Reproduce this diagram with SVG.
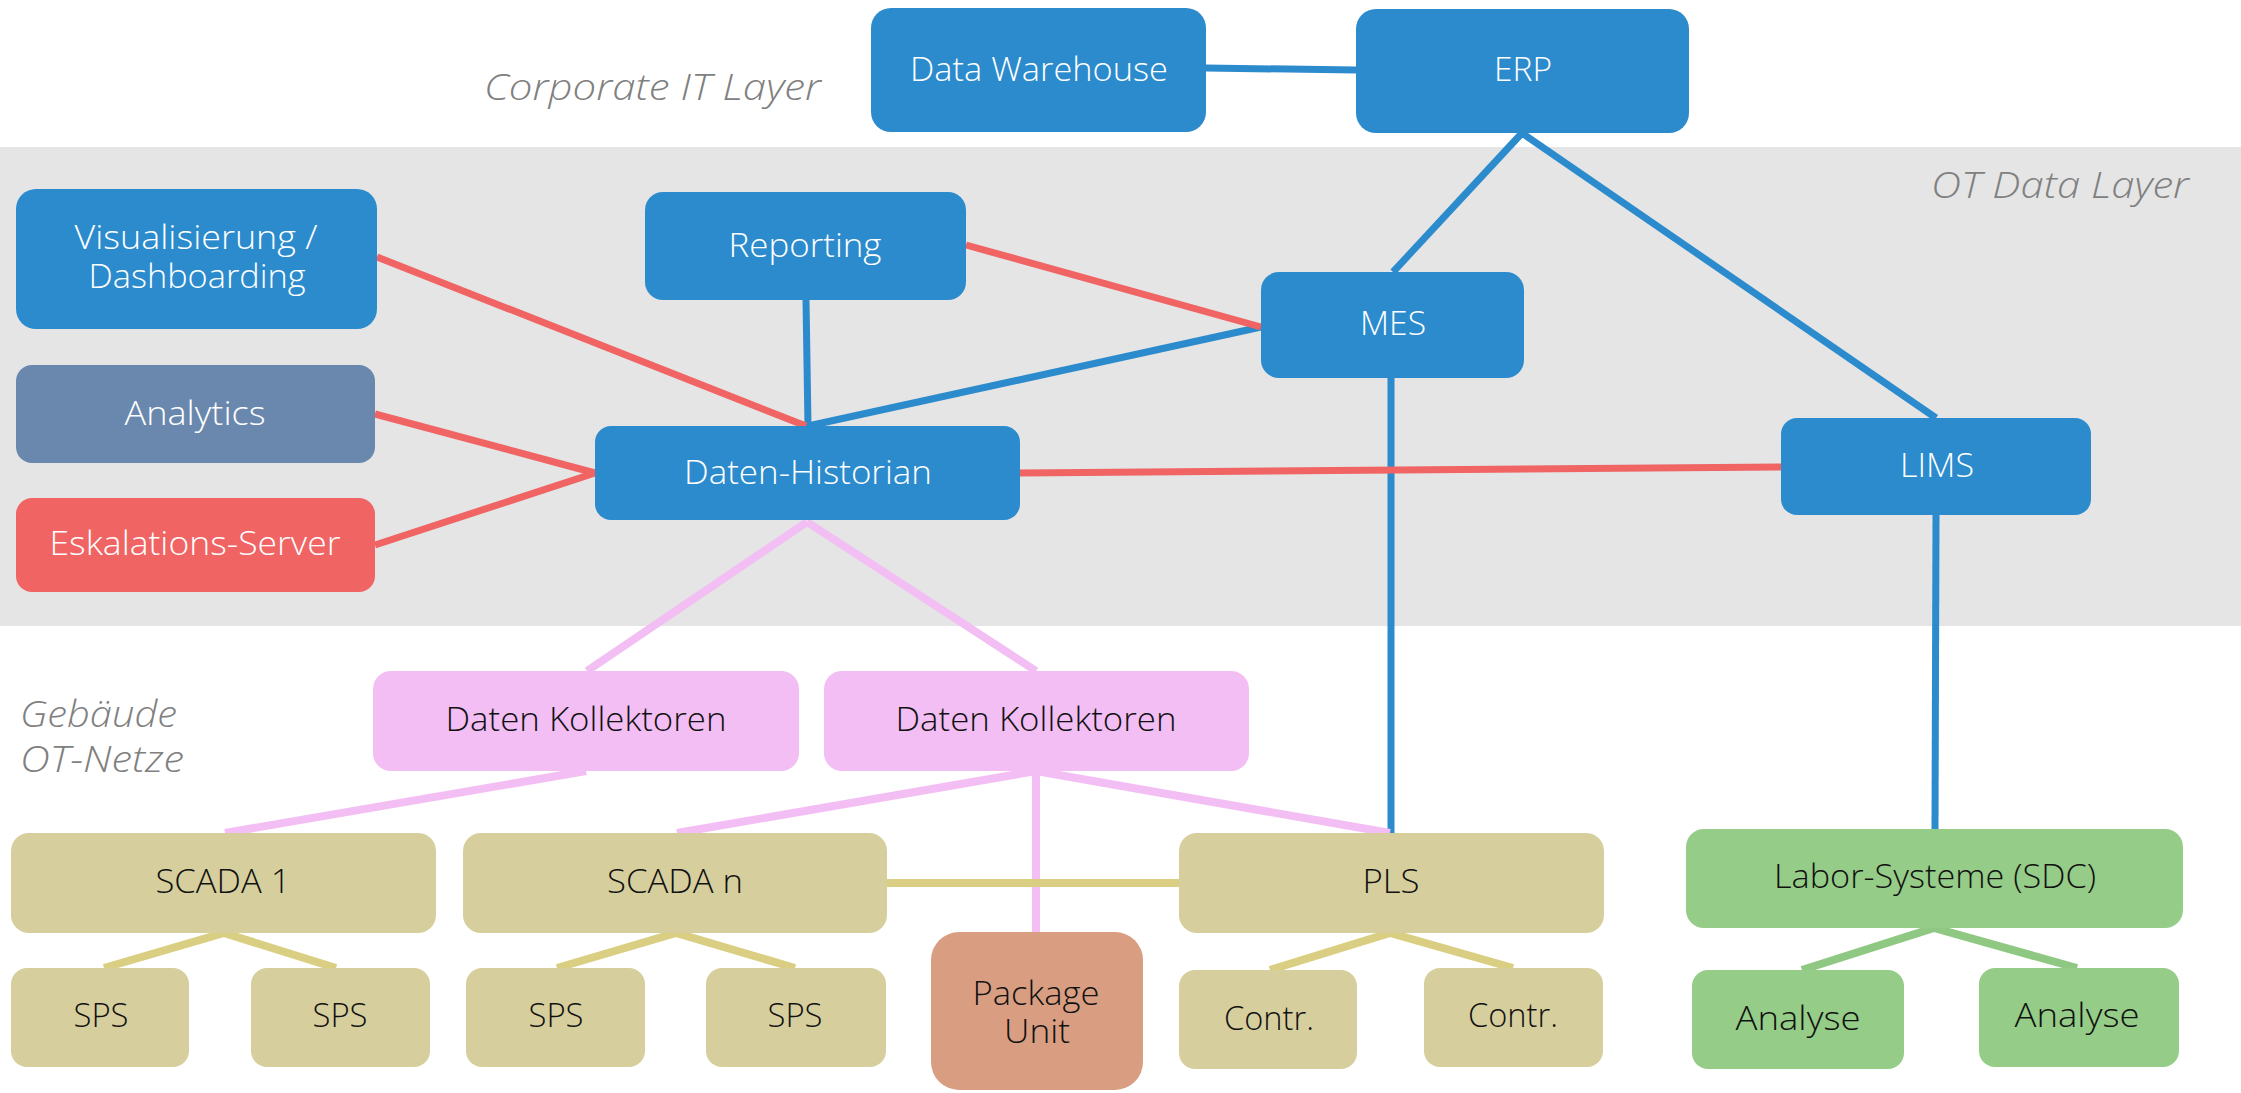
<svg xmlns="http://www.w3.org/2000/svg" width="2241" height="1093" viewBox="0 0 2241 1093">
  <style>
    .lbl { font-family: "Open Sans", "Liberation Sans", sans-serif; font-size: 33px; font-weight: 300; text-anchor: middle; }
    .w { fill: #ffffff; }
    .k { fill: #111111; }
    .layer { font-family: "Open Sans", "Liberation Sans", sans-serif; font-size: 37px; font-weight: 300; font-style: italic; fill: #808080; }
    .blue { fill: #2B8BCD; }
    .slate { fill: #6A88AE; }
    .alert { fill: #F06464; }
    .pink { fill: #F2BEF4; }
    .olive { fill: #D6CF9D; }
    .pkg { fill: #D99E81; }
    .green { fill: #95CC87; }
    .c-blue { stroke: #2B8BCD; stroke-width: 7; fill: none; }
    .c-red { stroke: #F06464; stroke-width: 7; fill: none; }
    .c-pink { stroke: #F2BEF4; stroke-width: 8; fill: none; }
    .c-olive { stroke: #D9CE82; stroke-width: 8; fill: none; }
    .c-green { stroke: #8FC882; stroke-width: 8; fill: none; }
  </style>

  <!-- background and layer bands -->
  <rect x="0" y="0" width="2241" height="1093" fill="#ffffff"/>
  <rect id="ot-data-band" x="0" y="147" width="2241" height="479" fill="#E5E5E5"/>

  <g id="layer-labels">
    <text class="layer" x="484" y="100" textLength="337" lengthAdjust="spacingAndGlyphs">Corporate IT Layer</text>
    <text class="layer" x="1931" y="198" textLength="258" lengthAdjust="spacingAndGlyphs">OT Data Layer</text>
    <text class="layer" x="20" y="727" textLength="157" lengthAdjust="spacingAndGlyphs">Gebäude</text>
    <text class="layer" x="20" y="772" textLength="164" lengthAdjust="spacingAndGlyphs">OT-Netze</text>
  </g>

  <g id="connectors">
    <!-- IT / MES / LIMS links -->
    <line class="c-blue" x1="1206" y1="68" x2="1356" y2="70"/>
    <line class="c-blue" x1="1522" y1="133" x2="1393" y2="272"/>
    <line class="c-blue" x1="1522" y1="133" x2="1936" y2="418"/>
    <line class="c-blue" x1="806" y1="300" x2="808" y2="426"/>
    <line class="c-blue" x1="808" y1="426" x2="1261" y2="327"/>
    <line class="c-blue" x1="1391" y1="378" x2="1391" y2="833"/>
    <line class="c-blue" x1="1936" y1="515" x2="1935" y2="829"/>
    <!-- historian data feeds -->
    <line class="c-red" x1="377" y1="257" x2="806" y2="426"/>
    <line class="c-red" x1="966" y1="245" x2="1261" y2="327"/>
    <line class="c-red" x1="375" y1="414" x2="595" y2="473"/>
    <line class="c-red" x1="375" y1="545" x2="595" y2="473"/>
    <line class="c-red" x1="1020" y1="473" x2="1781" y2="467"/>
    <!-- collectors -->
    <line class="c-pink" x1="807" y1="522" x2="587" y2="671"/>
    <line class="c-pink" x1="807" y1="522" x2="1036" y2="671"/>
    <line class="c-pink" x1="586" y1="771" x2="225" y2="833"/>
    <line class="c-pink" x1="1036" y1="771" x2="677" y2="833"/>
    <line class="c-pink" x1="1036" y1="771" x2="1036" y2="932"/>
    <line class="c-pink" x1="1036" y1="771" x2="1390" y2="833"/>
    <!-- field level -->
    <line class="c-olive" x1="887" y1="883" x2="1179" y2="883"/>
    <polyline class="c-olive" points="104,968 224,933 336,968"/>
    <polyline class="c-olive" points="557,968 676,933 795,968"/>
    <polyline class="c-olive" points="1270,970 1390,933 1513,968"/>
    <polyline class="c-green" points="1802,970 1934,928 2077,968"/>
  </g>

  <g id="data-warehouse">
    <rect class="blue" x="871" y="8" width="335" height="124" rx="20"/>
    <text class="lbl w" x="1039" y="81" textLength="258" lengthAdjust="spacingAndGlyphs">Data Warehouse</text>
  </g>
  <g id="erp">
    <rect class="blue" x="1356" y="9" width="333" height="124" rx="20"/>
    <text class="lbl w" x="1523" y="81" textLength="58" lengthAdjust="spacingAndGlyphs">ERP</text>
  </g>
  <g id="visualisierung">
    <rect class="blue" x="16" y="189" width="361" height="140" rx="20"/>
    <text class="lbl w" x="196" y="249" textLength="243" lengthAdjust="spacingAndGlyphs">Visualisierung /</text>
    <text class="lbl w" x="197" y="288" textLength="217" lengthAdjust="spacingAndGlyphs">Dashboarding</text>
  </g>
  <g id="reporting">
    <rect class="blue" x="645" y="192" width="321" height="108" rx="18"/>
    <text class="lbl w" x="805" y="257" textLength="153" lengthAdjust="spacingAndGlyphs">Reporting</text>
  </g>
  <g id="analytics">
    <rect class="slate" x="16" y="365" width="359" height="98" rx="16"/>
    <text class="lbl w" x="195" y="425" textLength="141" lengthAdjust="spacingAndGlyphs">Analytics</text>
  </g>
  <g id="eskalations-server">
    <rect class="alert" x="16" y="498" width="359" height="94" rx="16"/>
    <text class="lbl w" x="195" y="555" textLength="291" lengthAdjust="spacingAndGlyphs">Eskalations-Server</text>
  </g>
  <g id="daten-historian">
    <rect class="blue" x="595" y="426" width="425" height="94" rx="16"/>
    <text class="lbl w" x="808" y="484" textLength="248" lengthAdjust="spacingAndGlyphs">Daten-Historian</text>
  </g>
  <g id="mes">
    <rect class="blue" x="1261" y="272" width="263" height="106" rx="18"/>
    <text class="lbl w" x="1393" y="335" textLength="66" lengthAdjust="spacingAndGlyphs">MES</text>
  </g>
  <g id="lims">
    <rect class="blue" x="1781" y="418" width="310" height="97" rx="16"/>
    <text class="lbl w" x="1937" y="477" textLength="74" lengthAdjust="spacingAndGlyphs">LIMS</text>
  </g>

  <g id="daten-kollektoren-1">
    <rect class="pink" x="373" y="671" width="426" height="100" rx="18"/>
    <text class="lbl k" x="586" y="731" textLength="281" lengthAdjust="spacingAndGlyphs">Daten Kollektoren</text>
  </g>
  <g id="daten-kollektoren-2">
    <rect class="pink" x="824" y="671" width="425" height="100" rx="18"/>
    <text class="lbl k" x="1036" y="731" textLength="281" lengthAdjust="spacingAndGlyphs">Daten Kollektoren</text>
  </g>

  <g id="scada-1">
    <rect class="olive" x="11" y="833" width="425" height="100" rx="18"/>
    <text class="lbl k" x="223" y="893" textLength="135" lengthAdjust="spacingAndGlyphs">SCADA 1</text>
  </g>
  <g id="scada-n">
    <rect class="olive" x="463" y="833" width="424" height="100" rx="18"/>
    <text class="lbl k" x="675" y="893" textLength="136" lengthAdjust="spacingAndGlyphs">SCADA n</text>
  </g>
  <g id="pls">
    <rect class="olive" x="1179" y="833" width="425" height="100" rx="18"/>
    <text class="lbl k" x="1391" y="893" textLength="57" lengthAdjust="spacingAndGlyphs">PLS</text>
  </g>
  <g id="labor-systeme">
    <rect class="green" x="1686" y="829" width="497" height="99" rx="18"/>
    <text class="lbl k" x="1935" y="888" textLength="322" lengthAdjust="spacingAndGlyphs">Labor-Systeme (SDC)</text>
  </g>

  <g id="sps-1">
    <rect class="olive" x="11" y="968" width="178" height="99" rx="16"/>
    <text class="lbl k" x="101" y="1027" textLength="55" lengthAdjust="spacingAndGlyphs">SPS</text>
  </g>
  <g id="sps-2">
    <rect class="olive" x="251" y="968" width="179" height="99" rx="16"/>
    <text class="lbl k" x="340" y="1027" textLength="55" lengthAdjust="spacingAndGlyphs">SPS</text>
  </g>
  <g id="sps-3">
    <rect class="olive" x="466" y="968" width="179" height="99" rx="16"/>
    <text class="lbl k" x="556" y="1027" textLength="55" lengthAdjust="spacingAndGlyphs">SPS</text>
  </g>
  <g id="sps-4">
    <rect class="olive" x="706" y="968" width="180" height="99" rx="16"/>
    <text class="lbl k" x="795" y="1027" textLength="55" lengthAdjust="spacingAndGlyphs">SPS</text>
  </g>
  <g id="package-unit">
    <rect class="pkg" x="931" y="932" width="212" height="158" rx="28"/>
    <text class="lbl k" x="1036" y="1005" textLength="127" lengthAdjust="spacingAndGlyphs">Package</text>
    <text class="lbl k" x="1037" y="1043" textLength="66" lengthAdjust="spacingAndGlyphs">Unit</text>
  </g>
  <g id="contr-1">
    <rect class="olive" x="1179" y="970" width="178" height="99" rx="16"/>
    <text class="lbl k" x="1269" y="1030" textLength="90" lengthAdjust="spacingAndGlyphs">Contr.</text>
  </g>
  <g id="contr-2">
    <rect class="olive" x="1424" y="968" width="179" height="99" rx="16"/>
    <text class="lbl k" x="1513" y="1027" textLength="90" lengthAdjust="spacingAndGlyphs">Contr.</text>
  </g>
  <g id="analyse-1">
    <rect class="green" x="1692" y="970" width="212" height="99" rx="16"/>
    <text class="lbl k" x="1798" y="1030" textLength="125" lengthAdjust="spacingAndGlyphs">Analyse</text>
  </g>
  <g id="analyse-2">
    <rect class="green" x="1979" y="968" width="200" height="99" rx="16"/>
    <text class="lbl k" x="2077" y="1027" textLength="125" lengthAdjust="spacingAndGlyphs">Analyse</text>
  </g>
</svg>
